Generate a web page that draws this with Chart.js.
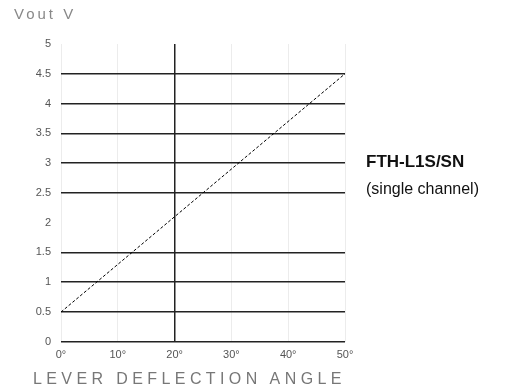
<!DOCTYPE html>
<html>
<head>
<meta charset="utf-8">
<script src="https://cdn.jsdelivr.net/npm/chart.js@4"></script>
<style>
  body { margin: 0; background: #fff; font-family: "Liberation Sans", Arial, sans-serif; }
  #wrap { position: relative; width: 525px; height: 389px; }
  .lbl { position: absolute; white-space: nowrap; }
</style>
</head>
<body>
<div id="wrap">
  <canvas id="grafico" width="525" height="389"></canvas>
  <div class="lbl" style="left:14px; top:5px; font-size:15px; color:#888; letter-spacing:3px;">Vout V</div>
  <div class="lbl" style="left:366px; top:152px; font-size:17px; font-weight:bold; color:#111;">FTH-L1S/SN</div>
  <div class="lbl" style="left:366px; top:180px; font-size:16px; color:#111;">(single channel)</div>
  <div class="lbl" style="left:33px; top:370px; font-size:16px; color:#777; letter-spacing:4.4px;">LEVER DEFLECTION ANGLE</div>
</div>
<script>
// datos
const angulos = [0, 50]
const voltajes = [0.5, 4.5]
const ticksX = ['0°', '10°', '20°', '30°', '40°', '50°']
const ticksY = ['0', '0.5', '1', '1.5', '2', '2.5', '3', '3.5', '4', '4.5', '5']
// lineas horizontales negras (no hay en 2 ni en 5)
const lineasY = [0, 0.5, 1, 1.5, 2.5, 3, 3.5, 4, 4.5]

const puntos = angulos.map((a, i) => ({ x: a, y: voltajes[i] }))

const ctx = document.getElementById('grafico').getContext('2d')
new Chart(ctx, {
  type: 'scatter',
  data: {
    datasets: [{
      data: puntos,
      showLine: true,
      borderColor: '#000',
      borderWidth: 1,
      borderDash: [3, 2],
      pointRadius: 0
    }]
  },
  options: {
    responsive: false,
    animation: false,
    layout: { padding: { top: 44, right: 180, bottom: 20, left: 0 } },
    plugins: { legend: { display: false }, tooltip: { enabled: false } },
    scales: {
      x: {
        type: 'linear',
        min: 0,
        max: 50,
        border: { display: false },
        grid: {
          drawTicks: false,
          color: c => c.tick && c.tick.value === 20 ? '#222' : '#ececec',
          lineWidth: c => c.tick && c.tick.value === 20 ? 1.5 : 1
        },
        ticks: {
          stepSize: 10,
          padding: 7,
          color: '#555',
          font: { family: 'Liberation Sans', size: 11 },
          callback: (v, i) => ticksX[i]
        }
      },
      y: {
        min: 0,
        max: 5,
        border: { display: false },
        afterFit: s => { s.width = 61 },
        grid: {
          drawTicks: false,
          color: c => c.tick && lineasY.includes(c.tick.value) ? '#222' : 'rgba(0,0,0,0)',
          lineWidth: 1.5
        },
        ticks: {
          stepSize: 0.5,
          padding: 10,
          color: '#555',
          font: { family: 'Liberation Sans', size: 11 },
          callback: (v, i) => ticksY[i]
        }
      }
    }
  }
})
</script>
</body>
</html>
